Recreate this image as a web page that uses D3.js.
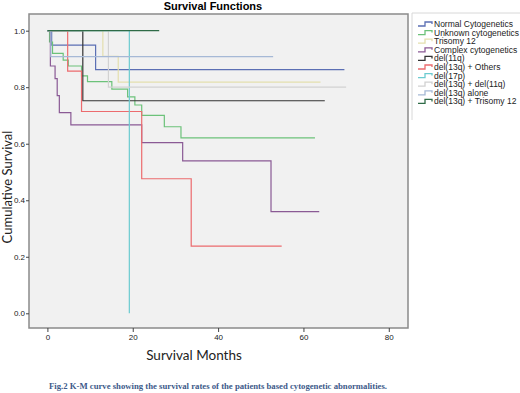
<!DOCTYPE html>
<html>
<head>
<meta charset="utf-8">
<script src="https://cdn.jsdelivr.net/npm/d3@7"></script>
<style>
  body { margin: 0; background: #fff; }
  svg { display: block; }
</style>
</head>
<body>
<div id="km"></div>
<script>
// group names, in legend order
const groups = [
  "Normal Cytogenetics", "Unknown cytogenetics", "Trisomy 12", "Complex cytogenetics",
  "del(11q)", "del(13q) + Others", "del(17p)", "del(13q) + del(11q)",
  "del(13q) alone", "del(13q) + Trisomy 12"
];

// step times (months) and survival after each step, last entry = end of follow-up
const normalT   = [0, 1.0, 11.3, 69.6];
const normalS   = [1, 0.949, 0.862, 0.862];
const unknownT  = [0, 0.5, 1.2, 3.7, 4.9, 8.0, 9.4, 15.1, 18.8, 20.5, 22.1, 27.4, 31.3, 62.7];
const unknownS  = [1, 0.96, 0.92, 0.896, 0.875, 0.84, 0.82, 0.793, 0.766, 0.737, 0.70, 0.66, 0.621, 0.621];
const tri12T    = [0, 13.0, 16.6, 64.0];
const tri12S    = [1, 0.909, 0.818, 0.818];
const complexT  = [0, 0.7, 1.8, 2.3, 2.8, 5.5, 22.1, 31.7, 52.4, 63.7];
const complexS  = [1, 0.875, 0.83, 0.77, 0.71, 0.667, 0.604, 0.539, 0.36, 0.36];
const del11T    = [0, 8.3, 65.0];
const del11S    = [1, 0.752, 0.752];
const othersT   = [0, 4.75, 8.0, 22.1, 33.7, 54.9];
const othersS   = [1, 0.857, 0.714, 0.476, 0.238, 0.238];
const del17T    = [0, 19.2, 19.2];
const del17S    = [1, 0, 0];
const d13d11T   = [0, 14.3, 70.0];
const d13d11S   = [1, 0.80, 0.80];
const aloneT    = [0, 0.8, 52.9];
const aloneS    = [1, 0.908, 0.908];
const d13tri12T = [0, 26.2];
const d13tri12S = [1, 1];

const seriesT = [normalT, unknownT, tri12T, complexT, del11T, othersT, del17T, d13d11T, aloneT, d13tri12T];
const seriesS = [normalS, unknownS, tri12S, complexS, del11S, othersS, del17S, d13d11S, aloneS, d13tri12S];

const xTicks = [0, 20, 40, 60, 80];
const yTicks = [0, 0.2, 0.4, 0.6, 0.8, 1.0];

const colors = ["#5b6fb4", "#6cc27a", "#e4dfae", "#8a5a95", "#333333",
                "#ec6b6e", "#6ccbd0", "#d2d2d2", "#a6b9d6", "#2f6b47"];

const W = 520, H = 393;
const plot = {left: 29, right: 408, top: 14, bottom: 328};

const svg = d3.select("#km").append("svg")
  .attr("width", W)
  .attr("height", H);

const x = d3.scaleLinear().domain([-4.31, 84.5]).range([plot.left, plot.right]);
const y = d3.scaleLinear().domain([-0.052, 1.059]).range([plot.bottom, plot.top]);

// plot background
svg.append("rect")
  .attr("x", plot.left).attr("y", plot.top)
  .attr("width", plot.right - plot.left).attr("height", plot.bottom - plot.top)
  .attr("fill", "#f1f1f1")
  .attr("stroke", "#8a8a8a")
  .attr("stroke-width", 1.5);

// axes
const xAxis = svg.append("g")
  .attr("transform", "translate(0," + plot.bottom + ")")
  .call(d3.axisBottom(x).tickValues(xTicks).tickSize(4).tickSizeOuter(0).tickFormat(d3.format("d")));
const yAxis = svg.append("g")
  .attr("transform", "translate(" + plot.left + ",0)")
  .call(d3.axisLeft(y).tickValues(yTicks).tickSize(3).tickSizeOuter(0).tickFormat(d3.format(".1f")));

[xAxis, yAxis].forEach(a => {
  a.select(".domain").remove();
  a.selectAll("line").attr("stroke", "#444");
  a.selectAll("text")
    .style("font-family", "'Liberation Sans Narrow', 'Liberation Sans', sans-serif")
    .style("font-size", "8px")
    .attr("fill", "#222");
});
yAxis.selectAll("text").attr("x", -4);
xAxis.selectAll("text").attr("y", 6);

// survival curves
const line = d3.line()
  .x(d => x(d[0]))
  .y(d => y(d[1]))
  .curve(d3.curveStepAfter);

seriesT.forEach((t, i) => {
  const pts = t.map((v, j) => [v, seriesS[i][j]]);
  svg.append("path")
    .attr("d", line(pts))
    .attr("fill", "none")
    .attr("stroke", colors[i])
    .attr("stroke-width", 1.2);
});

// title
svg.append("text")
  .attr("x", 213).attr("y", 10)
  .attr("text-anchor", "middle")
  .style("font-family", "'Liberation Sans Narrow', 'Liberation Sans', sans-serif")
  .style("font-weight", "bold")
  .style("font-size", "11px")
  .text("Survival Functions");

// axis titles
svg.append("text")
  .attr("transform", "translate(12,187) rotate(-90)")
  .attr("text-anchor", "middle")
  .style("font-family", "Lato, 'Open Sans', sans-serif")
  .style("font-size", "13px")
  .attr("fill", "#222")
  .text("Cumulative  Survival");

svg.append("text")
  .attr("x", 194).attr("y", 360)
  .attr("text-anchor", "middle")
  .style("font-family", "Lato, 'Open Sans', sans-serif")
  .style("font-size", "13.5px")
  .attr("fill", "#222")
  .text("Survival Months");

// legend
const legend = svg.append("g");
legend.append("path")
  .attr("d", "M412,120V13H520")
  .attr("fill", "none")
  .attr("stroke", "#d8d8d8");

groups.forEach((g, i) => {
  const ly = 24 + i * 8.6;
  legend.append("path")
    .attr("d", `M418,${ly + 2}H425V${ly - 2}H432V${ly}`)
    .attr("fill", "none")
    .attr("stroke", colors[i])
    .attr("stroke-width", 1.3);
  legend.append("text")
    .attr("x", 434).attr("y", ly + 3)
    .style("font-family", "'Liberation Sans Narrow', 'Liberation Sans', sans-serif")
    .style("font-size", "8.5px")
    .attr("fill", "#222")
    .text(g);
});

// caption
svg.append("text")
  .attr("x", 49).attr("y", 389)
  .attr("textLength", 338)
  .attr("lengthAdjust", "spacingAndGlyphs")
  .style("font-family", "'Liberation Serif', serif")
  .style("font-weight", "bold")
  .style("font-size", "8px")
  .attr("fill", "#3d5a8a")
  .text("Fig.2 K-M curve showing the survival rates of the patients based cytogenetic abnormalities.");
</script>
</body>
</html>
